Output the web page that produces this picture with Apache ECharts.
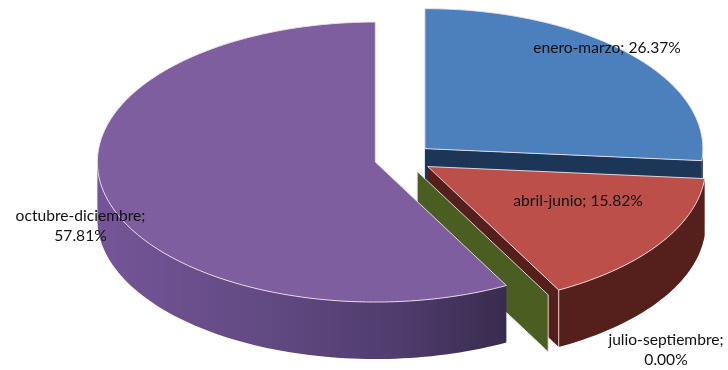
<!DOCTYPE html>
<html>
<head>
<meta charset="utf-8">
<style>html,body{margin:0;padding:0;background:#fff}#c{width:728px;height:370px}</style>
<script src="https://cdn.jsdelivr.net/npm/echarts@6/dist/echarts.min.js"></script>
</head>
<body>
<div id="c"></div>
<script>
// Data
const categories = ['enero-marzo', 'abril-junio', 'julio-septiembre', 'octubre-diciembre'];
const shares = [26.37, 15.82, 0.00, 57.81];

// Styles
const topColors = ['#4b80bc', '#bd4f4b', '#55702c', '#7f5ea0'];
const sideColors = ['#1c3657', '#551f1c', '#4a5e22', null];
const purpleWall = [[0, '#755598'], [0.4, '#624a83'], [0.75, '#4f3b6c'], [1, '#382c4e']];
const labelLayout = [
  { x: 607, y: 48, wrap: false },
  { x: 578, y: 201, wrap: false },
  { x: 666, y: 350, wrap: true },
  { x: 80.5, y: 226, wrap: true }
];

// Geometry of the tilted pie
const CX = 403.5, CY = 158.5, RX = 278, RY = 140, DEPTH = 57, EXPLODE = 29;
const TILT = RY / RX;
const total = shares.reduce((a, b) => a + b, 0);

function pt(c, deg, dy) {
  const a = deg * Math.PI / 180;
  return [c[0] + RX * Math.sin(a), c[1] - RY * Math.cos(a) + (dy || 0)];
}
function arc(c, from, to, dy) {
  const pts = [], n = Math.max(1, Math.ceil(Math.abs(to - from) / 1.5));
  for (let i = 0; i <= n; i++) pts.push(pt(c, from + (to - from) * i / n, dy));
  return pts;
}
const startAngles = shares.map((_, i) => shares.slice(0, i).reduce((a, b) => a + b, 0) / total * 360);

function renderItem(params, api) {
  const i = params.dataIndex;
  const value = api.value(0);
  const from = startAngles[i];
  const to = from + value / total * 360;
  const mid = (from + to) / 2 * Math.PI / 180;
  const c = [CX + EXPLODE * Math.sin(mid), CY - EXPLODE * TILT * Math.cos(mid)];
  const edge = 'rgba(236,226,230,0.9)';
  const children = [];
  const poly = (points, fill, stroke) => children.push({
    type: 'polygon',
    shape: { points },
    style: { fill, stroke: stroke || null, lineWidth: stroke ? 1 : 0 }
  });

  if (value === 0) {
    // A zero-width slice only shows its radial face
    const a = pt(c, from), b = pt(c, from, DEPTH);
    poly([c, a, b, [c[0], c[1] + DEPTH]], sideColors[i], edge);
  } else {
    // Radial face at the slice end, seen when it faces the viewer
    if (i < 2) {
      const e = pt(c, to), eb = pt(c, to, DEPTH);
      poly([c, e, eb, [c[0], c[1] + DEPTH]], sideColors[i]);
    }
    // Outer wall, front half of the ellipse only
    const wFrom = Math.max(from, 90), wTo = Math.min(to, 270);
    if (wTo > wFrom) {
      const upper = arc(c, wFrom, wTo, 0);
      const lower = arc(c, wTo, wFrom, DEPTH);
      const fill = sideColors[i] || {
        type: 'linear', x: 0, y: 0, x2: 1, y2: 0,
        colorStops: purpleWall.map(s => ({ offset: s[0], color: s[1] }))
      };
      poly(upper.concat(lower), fill);
    }
    // Seam where the radial face meets the wall
    if (i === 1) {
      const e = pt(c, to), eb = pt(c, to, DEPTH);
      children.push({ type: 'line', shape: { x1: e[0], y1: e[1], x2: eb[0], y2: eb[1] },
        style: { stroke: edge, lineWidth: 1 } });
    }
    // Top face
    poly([c].concat(arc(c, from, to, 0)), topColors[i], edge);
  }

  const lay = labelLayout[i];
  const name = categories[i];
  const pct = value.toFixed(2) + '%';
  children.push({
    type: 'text',
    style: {
      x: lay.x, y: lay.y,
      text: name + ';' + (lay.wrap ? '\n' : ' ') + pct,
      align: 'center', verticalAlign: 'middle',
      font: '15.6px Lato', lineHeight: 20, fill: '#111111'
    }
  });
  return { type: 'group', children };
}

const chart = echarts.init(document.getElementById('c'), null, { renderer: 'canvas' });
chart.setOption({
  backgroundColor: '#ffffff',
  animation: false,
  tooltip: { show: false },
  series: [{
    type: 'custom',
    coordinateSystem: 'none',
    renderItem,
    silent: true,
    data: shares.map((v, i) => ({ name: categories[i], value: [v] }))
  }]
});
</script>
</body>
</html>
